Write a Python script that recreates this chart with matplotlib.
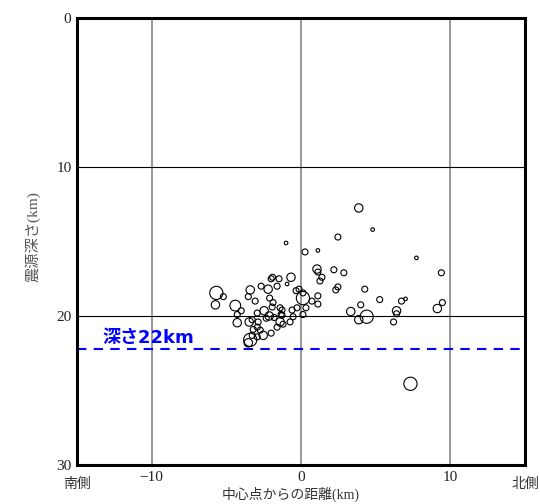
import numpy as np
import matplotlib
matplotlib.use("Agg")
import matplotlib.pyplot as plt

plt.rcParams['font.family'] = ['Liberation Serif', 'Noto Sans CJK JP']

# distance from centre (km), depth (km), magnitude
dist = [-1.0, 0.27, 1.13, 3.87, 4.8, 2.47, 7.73, 1.07, 1.13, 1.4, 1.27, 2.2,
        2.87, -0.67, -0.93, 9.4, 2.47, 2.33, 4.27, 5.27, 6.73, 7.0, 9.47, 9.13,
        4.0, 3.33, 4.4, 3.87, 6.4, 6.4, 6.2, 7.33, 1.13, 1.13, 0.73, 0.33,
        0.13, -0.27, -0.6, -0.73, -0.33, -0.13, 0.13, 0.13, -1.27, -1.27, -1.2,
        -0.53, -2.0, -1.47, -2.67, -2.2, -3.4, -1.6, -5.67, -5.2, -5.73, -3.53,
        -3.07, -4.4, -4.0, -4.27, -4.27, -3.47, -2.47, -2.93, -1.93, -1.87,
        -1.4, -2.13, -1.33, -3.27, -2.93, -2.73, -3.2, -1.4, -1.6, -2.0, -2.53,
        -2.93, -3.4, -3.53, -3.27, -2.33, -2.87, -1.8, -1.9, -2.1]
depth = [15.1, 15.7, 15.6, 12.75, 14.2, 14.7, 16.1, 16.85, 17.05, 17.4, 17.65,
         16.9, 17.1, 17.4, 17.85, 17.1, 18.05, 18.25, 18.2, 18.9, 19.0, 18.85,
         19.1, 19.5, 19.25, 19.7, 20.05, 20.25, 19.65, 19.85, 20.4, 24.55, 18.65,
         19.2, 19.0, 19.45, 19.9, 19.45, 19.6, 20.4, 18.3, 18.2, 18.45, 18.8,
         19.6, 19.95, 20.55, 20.05, 17.5, 17.5, 18.0, 18.2, 18.25, 18.0, 18.45,
         18.7, 19.25, 18.7, 19.0, 19.3, 19.65, 19.9, 20.45, 20.4, 19.65, 19.8,
         19.4, 19.1, 19.45, 20.0, 19.9, 20.25, 20.75, 20.95, 20.9, 20.4, 20.75,
         21.15, 21.3, 21.4, 21.6, 21.8, 21.3, 20.15, 20.4, 20.1, 17.4, 18.8]
mag = [0.5, 1.0, 0.5, 1.5, 0.5, 1.0, 0.5, 1.5, 1.0, 1.0, 1.0, 1.0,
       1.0, 1.5, 0.5, 1.0, 1.0, 1.0, 1.0, 1.0, 1.0, 0.5, 1.0, 1.5,
       1.0, 1.5, 2.5, 1.5, 1.5, 1.0, 1.0, 2.5, 1.0, 1.0, 1.0, 1.0,
       1.0, 1.0, 1.0, 1.0, 1.0, 1.0, 1.0, 2.5, 1.0, 1.0, 1.0,
       1.0, 1.0, 1.0, 1.0, 1.5, 1.5, 1.0, 2.5, 1.0, 1.5, 1.0,
       1.0, 2.0, 1.0, 1.0, 1.5, 1.5, 1.5, 1.0, 1.0, 1.0,
       1.0, 1.5, 1.0, 1.0, 1.0, 1.0, 1.0, 1.5, 1.0, 1.0, 1.5,
       1.0, 2.5, 1.5, 1.0, 1.0, 1.0, 1.0, 1.0, 1.0]

ref_depth = 22.2
ref_label = '深さ22km'

fig = plt.figure(figsize=(5.4, 5.04), dpi=100)
ax = fig.add_axes([0.1426, 0.0774, 0.8296, 0.8869])

for x in [-10, 0, 10]:
    ax.axvline(x, color='#888888', lw=1.2, zorder=1)
for y in [10, 20]:
    ax.axhline(y, color='black', lw=0.8, zorder=1)

# circle radius in pixels grows with magnitude
radius_px = 0.6 + 2.4 * np.array(mag)
sizes = (1.44 * radius_px) ** 2
ax.scatter(dist, depth, s=sizes, facecolors='none', edgecolors='black',
           linewidths=0.8, zorder=3)

ax.axhline(ref_depth, color='#0000ff', lw=1.5, ls=(0, (4.5, 3.5)), zorder=2)
ax.text(-13.3, ref_depth - 0.75, ref_label, color='#0000ff', fontsize=13,
        fontweight='bold', family=['DejaVu Sans', 'Noto Sans CJK JP'],
        va='center', ha='left')

ax.set_xlim(-15, 15)
ax.set_ylim(30, 0)
ax.set_xticks([-10, 0, 10])
ax.set_xticklabels(['\u221210', '0', '10'])
ax.set_yticks([0, 10, 20, 30])
ax.tick_params(length=0, labelsize=11, colors='#222222', pad=4)
for sp in ax.spines.values():
    sp.set_linewidth(2.2)

fig.text(33 / 540, 1 - 237 / 504, '震源深さ(km)', rotation=90, ha='center',
         va='center', fontsize=11, color='#555555')
ax.text(-15, 30.9, '南側', ha='center', va='top', fontsize=10, color='#333333')
ax.text(15, 30.9, '北側', ha='center', va='top', fontsize=10, color='#333333')
ax.text(-0.7, 31.45, '中心点からの距離(km)', ha='center', va='top',
        fontsize=10, color='#333333')

fig.savefig('out.png', dpi=100)
